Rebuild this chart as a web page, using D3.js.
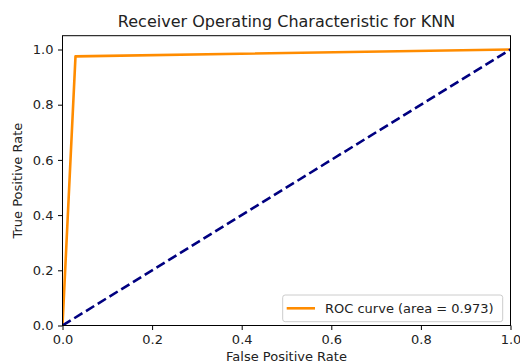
<!DOCTYPE html>
<html>
<head>
<meta charset="utf-8">
<script src="https://cdn.jsdelivr.net/npm/d3@7"></script>
<style>
  html, body { margin: 0; padding: 0; background: #fff; }
  svg { display: block; font-family: "DejaVu Sans", sans-serif; }
</style>
</head>
<body>
<svg id="chart" width="520" height="364"></svg>
<script>
// ROC curve points for the KNN classifier
const fpr = [0.0, 0.029, 1.0];
const tpr = [0.0, 0.975, 1.0];
const rocArea = 0.973;
// Chance-level diagonal
const chanceX = [0, 1];
const chanceY = [0, 1];
const tickValues = [0.0, 0.2, 0.4, 0.6, 0.8, 1.0];

const svg = d3.select("#chart");
const plotLeft = 62.5, plotRight = 510.5, plotTop = 35.7, plotBottom = 325.5;

const x = d3.scaleLinear().domain([0, 1]).range([plotLeft, plotRight]);
const y = d3.scaleLinear().domain([0, 1.05]).range([plotBottom, plotTop]);

svg.append("rect").attr("width", 520).attr("height", 364).attr("fill", "#fff");

const plot = svg.append("g");
plot.append("clipPath").attr("id", "clip")
  .append("rect").attr("x", plotLeft).attr("y", plotTop)
  .attr("width", plotRight - plotLeft).attr("height", plotBottom - plotTop);

const line = d3.line().x(d => x(d[0])).y(d => y(d[1]));

const curves = plot.append("g").attr("clip-path", "url(#clip)");
curves.append("path")
  .datum(fpr.map((v, i) => [v, tpr[i]]))
  .attr("d", line)
  .attr("fill", "none")
  .attr("stroke", "#ff8c00")
  .attr("stroke-width", 2.6)
  .attr("stroke-linejoin", "round");

curves.append("path")
  .datum(chanceX.map((v, i) => [v, chanceY[i]]))
  .attr("d", line)
  .attr("fill", "none")
  .attr("stroke", "#000080")
  .attr("stroke-width", 2.6)
  .attr("stroke-dasharray", "9.6,4.2");

// Axes
const fmt = d3.format(".1f");
const xAxis = d3.axisBottom(x).tickValues(tickValues).tickFormat(fmt)
  .tickSize(4.5).tickPadding(4.5);
const yAxis = d3.axisLeft(y).tickValues(tickValues).tickFormat(fmt)
  .tickSize(4.5).tickPadding(4.5);

const gx = svg.append("g").attr("transform", `translate(0,${plotBottom})`).call(xAxis);
const gy = svg.append("g").attr("transform", `translate(${plotLeft},0)`).call(yAxis);
[gx, gy].forEach(g => {
  g.select(".domain").remove();
  g.selectAll(".tick line").attr("stroke", "#000").attr("stroke-width", 1);
  g.selectAll(".tick text").attr("fill", "#222").attr("font-size", 13)
    .attr("font-family", "DejaVu Sans");
});

// Frame
svg.append("rect")
  .attr("x", plotLeft).attr("y", plotTop)
  .attr("width", plotRight - plotLeft).attr("height", plotBottom - plotTop)
  .attr("fill", "none").attr("stroke", "#000").attr("stroke-width", 1);

// Title and axis labels
svg.append("text")
  .attr("x", (plotLeft + plotRight) / 2).attr("y", 27.3)
  .attr("text-anchor", "middle").attr("font-size", 16).attr("fill", "#222")
  .text("Receiver Operating Characteristic for KNN");

svg.append("text")
  .attr("x", (plotLeft + plotRight) / 2).attr("y", 360.5)
  .attr("text-anchor", "middle").attr("font-size", 13).attr("fill", "#222")
  .text("False Positive Rate");

svg.append("text")
  .attr("transform", `translate(22,${(plotTop + plotBottom) / 2}) rotate(-90)`)
  .attr("text-anchor", "middle").attr("font-size", 13).attr("fill", "#222")
  .text("True Positive Rate");

// Legend
const lg = svg.append("g");
lg.append("rect")
  .attr("x", 282.7).attr("y", 295).attr("width", 220).attr("height", 26.7)
  .attr("rx", 2.5).attr("fill", "#fff").attr("fill-opacity", 0.8)
  .attr("stroke", "#ccc").attr("stroke-width", 1);
lg.append("line")
  .attr("x1", 286.7).attr("x2", 315).attr("y1", 308.3).attr("y2", 308.3)
  .attr("stroke", "#ff8c00").attr("stroke-width", 2.6);
lg.append("text")
  .attr("x", 325).attr("y", 313).attr("font-size", 13).attr("fill", "#222")
  .text(`ROC curve (area = ${rocArea.toFixed(3)})`);
</script>
</body>
</html>
